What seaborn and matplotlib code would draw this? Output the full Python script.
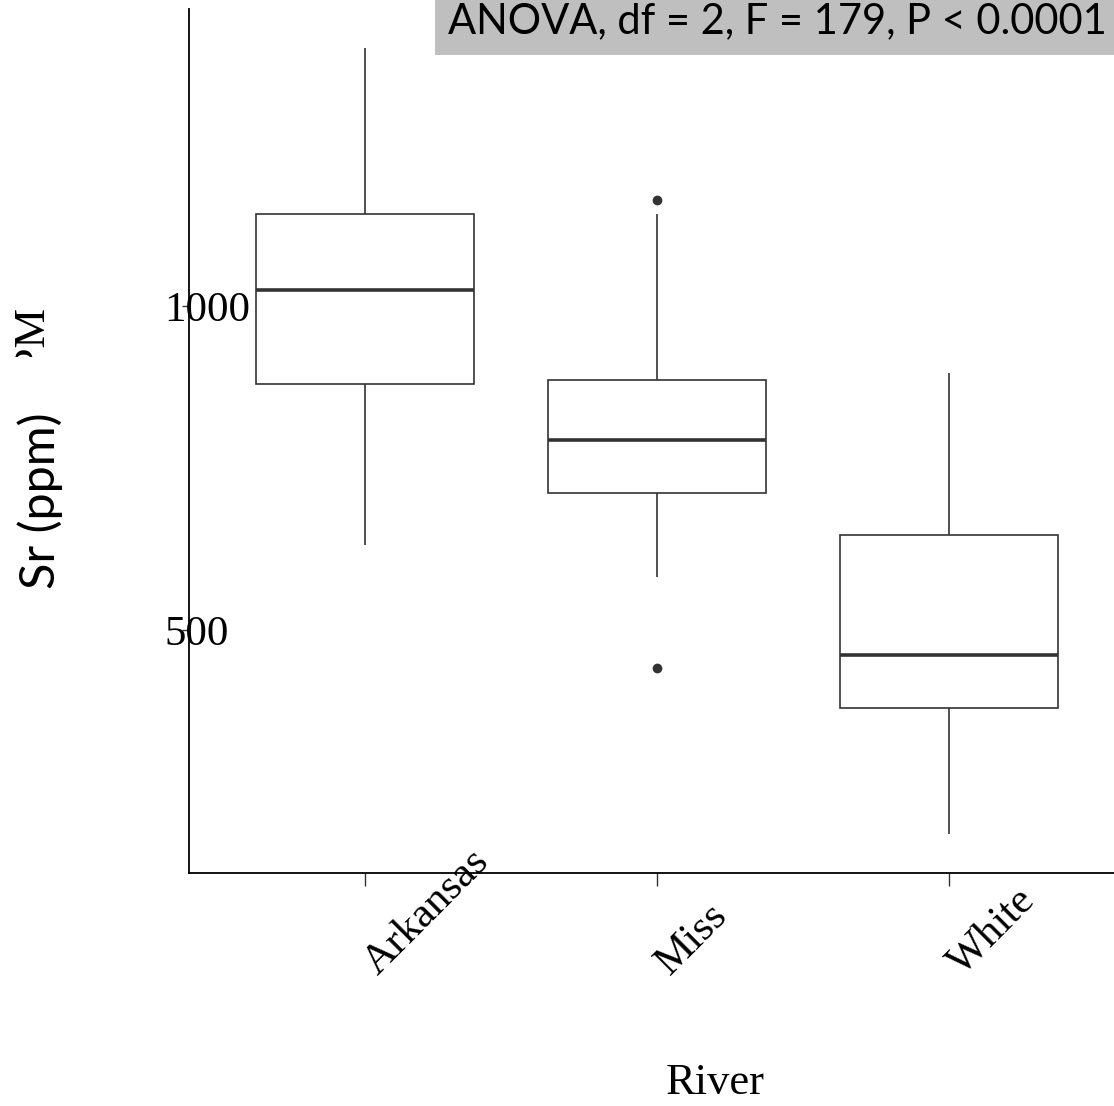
import matplotlib
matplotlib.use('Agg')
import matplotlib.pyplot as plt
from matplotlib.patches import Rectangle
import matplotlib.transforms as mtransforms
import pandas as pd
import seaborn as sns

# values (Sr, ppm)
rivers = ['Arkansas', 'Miss', 'White']
arkansas_sr = [631, 880, 1025, 1142, 1398]
miss_sr = [441, 582, 711, 711, 793, 886, 886, 1142, 1164]
white_sr = [185, 380, 461, 647, 897]
y_ticks = [500, 1000]
anova_text = 'ANOVA, df = 2, F = 179, P < 0.0001'

W, H = 1114, 1106
serif = 'Liberation Serif'
sans = 'Lato'
line_col = '#333333'

df = pd.DataFrame({
    'River': ['Arkansas'] * len(arkansas_sr) + ['Miss'] * len(miss_sr) + ['White'] * len(white_sr),
    'Sr': arkansas_sr + miss_sr + white_sr,
})

sns.set_style('white')
plt.rcParams['font.family'] = [serif, 'DejaVu Serif']
plt.rcParams['text.color'] = 'black'
plt.rcParams['axes.labelcolor'] = 'black'
plt.rcParams['xtick.labelcolor'] = 'black'
plt.rcParams['ytick.labelcolor'] = 'black'

fig = plt.figure(figsize=(W / 100, H / 100), dpi=100)
ax = fig.add_axes([189 / W, 1 - 873 / H, 1 - 189 / W, (873 - 9) / H])

sns.boxplot(data=df, x='River', y='Sr', order=rivers, ax=ax,
            color='white', linecolor=line_col, linewidth=1.2, width=0.745,
            showcaps=False,
            medianprops={'linewidth': 2.6, 'color': line_col},
            flierprops={'marker': 'o', 'markersize': 6,
                        'markerfacecolor': line_col, 'markeredgecolor': line_col})

ax.set_xlim(-0.603, 2.565)
ax.set_ylim(125, 1458)
ax.set_yticks(y_ticks)
ax.set_yticklabels([str(t) for t in y_ticks])

sns.despine(ax=ax)
for s in ['left', 'bottom']:
    ax.spines[s].set_color('black')
    ax.spines[s].set_linewidth(1.3)

ax.tick_params(axis='x', direction='out', length=9.5, width=1, color=line_col,
               pad=65, labelsize=31, bottom=True)
ax.tick_params(axis='y', direction='out', length=5, width=1, color=line_col,
               pad=12.5, labelsize=31, left=True)
shift = mtransforms.ScaledTranslation(13 / 100, 0, fig.dpi_scale_trans)
for lbl in ax.get_xticklabels():
    lbl.set_rotation(45)
    lbl.set_rotation_mode('anchor')
    lbl.set_ha('left')
    lbl.set_va('baseline')
    lbl.set_transform(lbl.get_transform() + shift)
for lbl in ax.get_yticklabels():
    lbl.set_ha('left')

ax.set_xlabel('River', fontsize=32)
ax.xaxis.set_label_coords((715 - 189) / (W - 189), (873 - 1083) / (873 - 9))
ax.xaxis.label.set_va('center')
ax.set_ylabel('')

# old y label, mostly hidden under the pasted one
fig.text(44 / W, 1 - 306 / H, 'PPM', rotation=90, rotation_mode='anchor',
         ha='right', va='baseline', fontsize=32, family=serif, zorder=1)
fig.patches.append(Rectangle((0, 1 - 800 / H), 120 / W, (800 - 357) / H,
                             transform=fig.transFigure, facecolor='white',
                             edgecolor='none', zorder=2))
fig.text(40 / W, 1 - 501 / H, 'Sr (ppm)', rotation=90, ha='center', va='center',
         fontsize=35, family=[sans, 'DejaVu Sans'], zorder=3)

# ANOVA box at the top
fig.patches.append(Rectangle((435 / W, 1 - 55 / H), 1 - 435 / W, 55 / H,
                             transform=fig.transFigure, facecolor='#bfbfbf',
                             edgecolor='none', zorder=4))
fig.text(448 / W, 1 - 33 / H, anova_text, ha='left', va='baseline',
         fontsize=30, family=[sans, 'DejaVu Sans'], zorder=5)

fig.savefig('out.png', dpi=100)
